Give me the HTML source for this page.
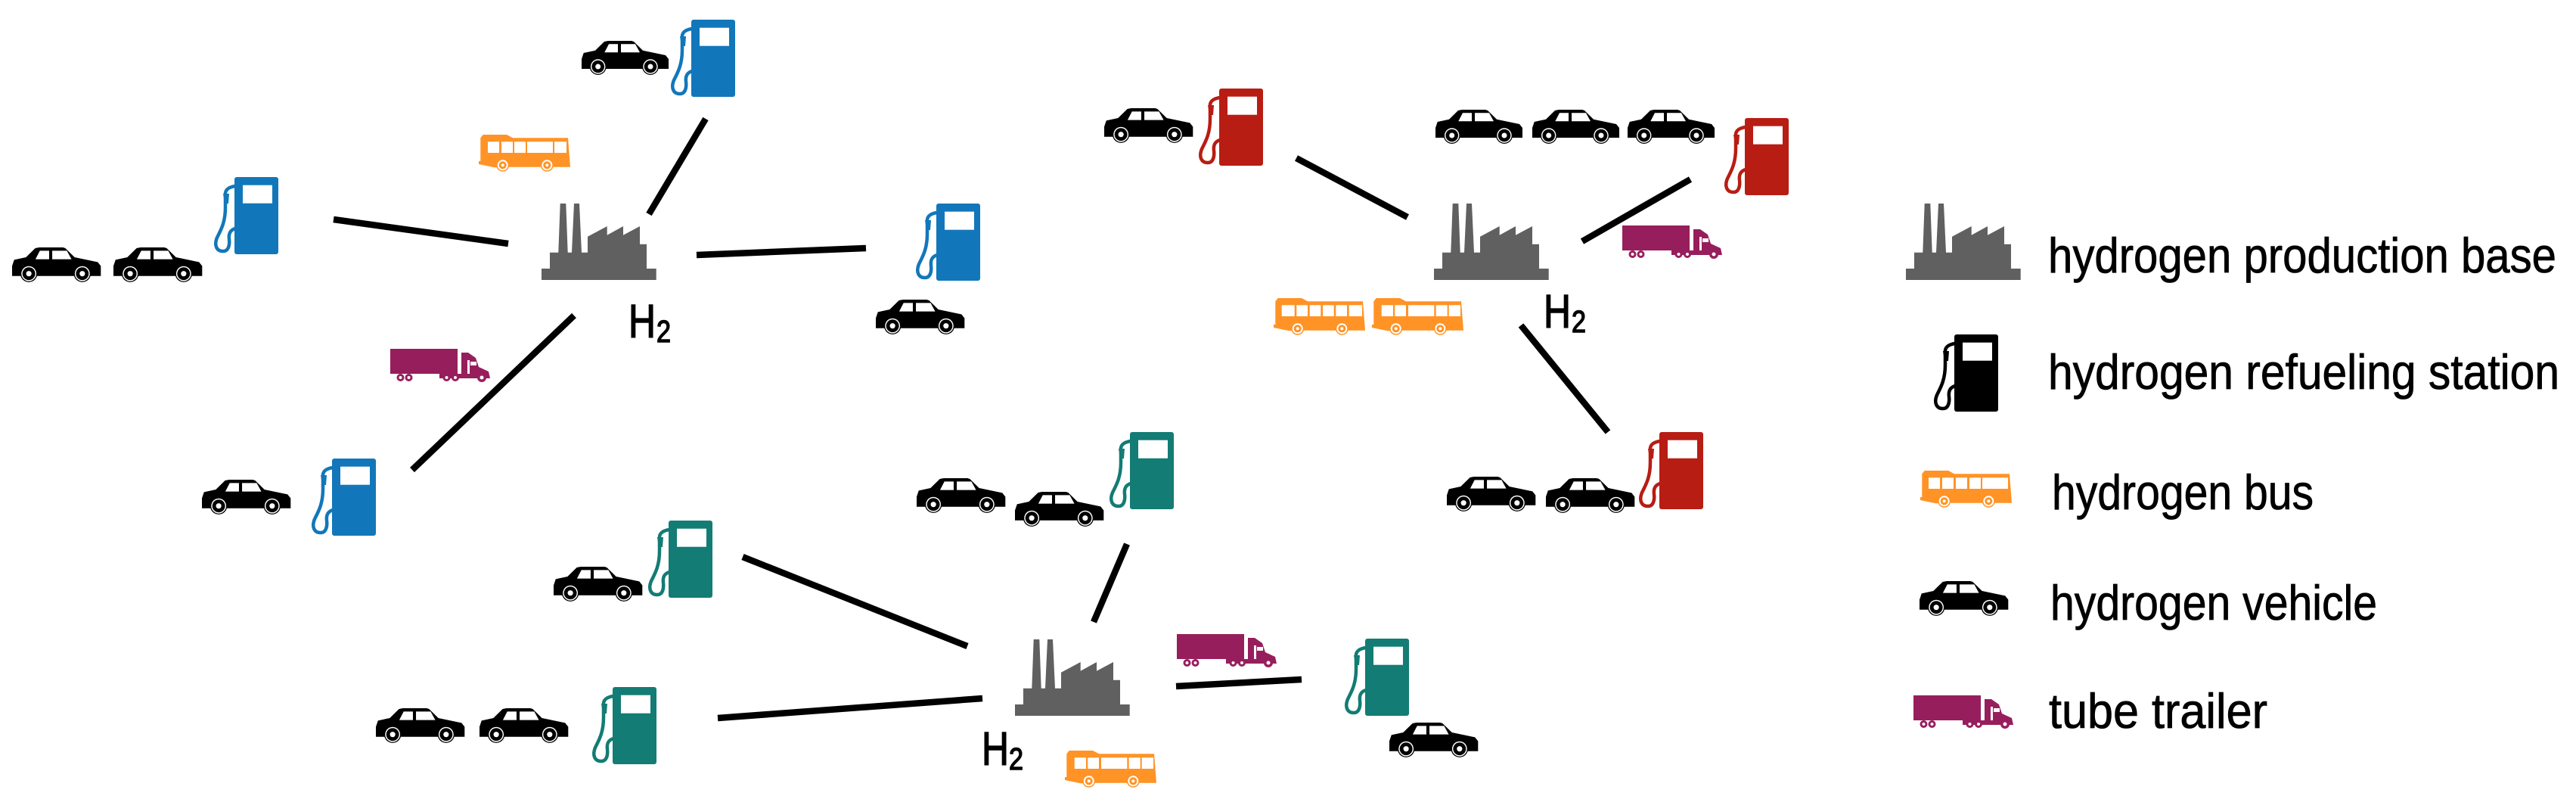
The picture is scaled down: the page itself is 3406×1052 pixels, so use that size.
<!DOCTYPE html>
<html><head><meta charset="utf-8"><style>
html,body{margin:0;padding:0;background:#fff}
svg{display:block}
text{font-family:"Liberation Sans Narrow","Liberation Sans",sans-serif;fill:#000;stroke:#000}
</style></head><body>
<svg xmlns="http://www.w3.org/2000/svg" width="3406" height="1052" viewBox="0 0 3406 1052">
<defs>
<g id="factory"><path fill="#606060" d="M0 101V86H11V64.700H22.300L24.700 0H32.300L34.700 64.700H40L43 0H50L53 64.700H61V43.700L86.700 30V41.700L108 30V41.700L130 30V53.700H139V86H151.700V101Z"/></g>
<g id="car"><path fill="#000" d="M0 37V24L2.700 16L18 12.700L30 1L35 0H66L69 1L81 12.700L111 19L115 24V37Z"/>
<path fill="#fff" d="M30.300 15.300L36 4.300H48V15.300ZM52 4.300H71L77 15.300H52Z"/>
<g id="w"><circle cx="21.700" cy="34" r="11" fill="#000"/><circle cx="21.700" cy="34" r="9.700" fill="#fff"/><circle cx="21.700" cy="34" r="8.300" fill="#000"/><circle cx="21.700" cy="34" r="3.500" fill="#fff"/></g>
<use href="#w" x="69.300"/></g>
<g id="car2"><g transform="scale(1.02)"><use href="#car"/></g></g>
<g id="busbase"><path fill="#ff9326" d="M2.300 35L2.300 4.300L5.700 0H37L45 4.300H118L121 42.700H30L20.700 43.300L0 39V35Z"/>
<g id="bw"><circle cx="31.700" cy="40.300" r="8.500" fill="#ff9326"/><circle cx="31.700" cy="40.300" r="7" fill="#fff"/><circle cx="31.700" cy="40.300" r="5" fill="#ff9326"/><circle cx="31.700" cy="40.300" r="2" fill="#fff"/></g>
<use href="#bw" x="58.600"/></g>
<g id="busA"><use href="#busbase"/><path fill="#fff" d="M10.700 9.300H27.700V24H10.700ZM30.300 9.300H45V24H30.300ZM47.700 9.300H62.300V24H47.700ZM65 9.300H79.700V24H65ZM82.300 9.300H97V24H82.300ZM99.700 9.300H117V24H99.700Z"/></g>
<g id="busB"><use href="#busbase"/><path fill="#fff" d="M12.700 9.300H28V24H12.700ZM30.300 9.300H45V24H30.300ZM48 9.300H82.300V24H48ZM84.700 9.300H99.700V24H84.700ZM101.700 9.300H117V24H101.700Z"/></g>
<g id="busC"><use href="#busbase"/><path fill="#fff" d="M12 9.300H27V24H12ZM30 9.300H45V24H30ZM47 9.300H62V24H47ZM64 9.300H98V24H64ZM100 9.300H116V24H100Z"/></g>
<g id="busD"><use href="#busbase"/><path fill="#fff" d="M11 9.300H26V24H11ZM29 9.300H44V24H29ZM47 9.300H62V24H47ZM65 9.300H80V24H65ZM82 9.300H116V24H82Z"/></g>
<g id="truck"><path fill="#971e5c" d="M0 0H89V33H0ZM65 33H94V5H103L113 12L117 24L130 30L132 39H65Z"/>
<path fill="#fff" d="M102 15H105V33H102ZM106 17H114V22H106Z"/>
<g fill="#971e5c"><circle cx="13.500" cy="38" r="5"/><circle cx="24.500" cy="38" r="5"/><circle cx="74.500" cy="38" r="5"/><circle cx="86" cy="38" r="5"/><circle cx="121" cy="38" r="6"/></g>
<g fill="#fff"><circle cx="13.500" cy="38" r="2"/><circle cx="24.500" cy="38" r="2"/><circle cx="74.500" cy="38" r="2"/><circle cx="86" cy="38" r="2"/><circle cx="121" cy="38" r="2.500"/></g></g>
<g id="pump"><rect width="58" height="102" rx="3" fill="currentColor"/><rect x="11" y="10.700" width="39" height="24" fill="#fff"/>
<path fill="none" stroke="currentColor" stroke-width="4.500" d="M1 12C-6 13-12 16-12 22L-12 40C-12 60-18 70-23 80C-27 90-24 98-15 98C-8 98-6 90-7 82C-8 74-5 70 1 68"/>
<path fill="currentColor" d="M-15 22L-7 22L-8 35L-13 35Z"/></g>
</defs>
<g stroke="#000" stroke-width="8.500" fill="none">
<path d="M441 290L672 322M933 157L858 283M921 337L1145 328M759 417L545 621"/>
<path d="M1714 209L1861 287M2092 319L2235 237M2011 430L2126 571"/>
<path d="M982 736L1279 854M949 949L1299 923M1490 719L1446 822M1555 907L1721 898"/>
</g>
<use href="#factory" x="716" y="269"/><use href="#factory" x="1896" y="269"/><use href="#factory" x="1342" y="845"/><use href="#factory" x="2520" y="269"/>
<g color="#1277ba"><use href="#pump" x="914" y="26"/><use href="#pump" x="310" y="234"/><use href="#pump" x="1238" y="269"/><use href="#pump" x="439" y="606"/></g>
<g color="#137c74"><use href="#pump" x="884" y="688"/><use href="#pump" x="810" y="908"/><use href="#pump" x="1494" y="571"/><use href="#pump" x="1805" y="844"/></g>
<g color="#b81d13"><use href="#pump" x="1612" y="117"/><use href="#pump" x="2307" y="156"/><use href="#pump" x="2194" y="571"/></g>
<g color="#000"><use href="#pump" x="2584" y="442"/></g>
<use href="#car" x="769" y="54"/><use href="#car2" x="16" y="327"/><use href="#car2" x="150" y="327"/><use href="#car2" x="1158" y="396"/><use href="#car2" x="267" y="634"/>
<use href="#car2" x="732" y="749"/><use href="#car2" x="497" y="936"/><use href="#car2" x="634" y="936"/><use href="#car2" x="1212" y="632"/><use href="#car2" x="1342" y="650"/><use href="#car2" x="1837" y="955"/>
<use href="#car2" x="1460" y="143"/><use href="#car" x="1898" y="145"/><use href="#car" x="2026" y="145"/><use href="#car" x="2152" y="145"/><use href="#car2" x="1913" y="630"/><use href="#car2" x="2044" y="632"/><use href="#car2" x="2538" y="768"/>
<use href="#busC" x="633" y="178"/><use href="#busA" x="1684" y="394"/><use href="#busB" x="1814" y="394"/><use href="#busB" x="1408" y="992"/><use href="#busD" x="2539" y="622"/>
<use href="#truck" x="516" y="461"/><use href="#truck" x="2145" y="298"/><use href="#truck" x="1556" y="838"/><use href="#truck" x="2530" y="919"/>
<g font-size="62" stroke-width="1.500">
<text x="831" y="446" textLength="36" lengthAdjust="spacingAndGlyphs">H</text><text x="868" y="452" font-size="41" textLength="19" lengthAdjust="spacingAndGlyphs">2</text>
<text x="2041" y="433" textLength="36" lengthAdjust="spacingAndGlyphs">H</text><text x="2078" y="439" font-size="41" textLength="19" lengthAdjust="spacingAndGlyphs">2</text>
<text x="1298" y="1011" textLength="36" lengthAdjust="spacingAndGlyphs">H</text><text x="1334" y="1017" font-size="41" textLength="19" lengthAdjust="spacingAndGlyphs">2</text>
</g>
<g font-size="65" stroke-width="0.800">
<text x="2708" y="360" textLength="672" lengthAdjust="spacingAndGlyphs">hydrogen production base</text>
<text x="2708" y="514" textLength="676" lengthAdjust="spacingAndGlyphs">hydrogen refueling station</text>
<text x="2713" y="673" textLength="346" lengthAdjust="spacingAndGlyphs">hydrogen bus</text>
<text x="2711" y="819" textLength="432" lengthAdjust="spacingAndGlyphs">hydrogen vehicle</text>
<text x="2709" y="962" textLength="289" lengthAdjust="spacingAndGlyphs">tube trailer</text>
</g>
</svg>
</body></html>
